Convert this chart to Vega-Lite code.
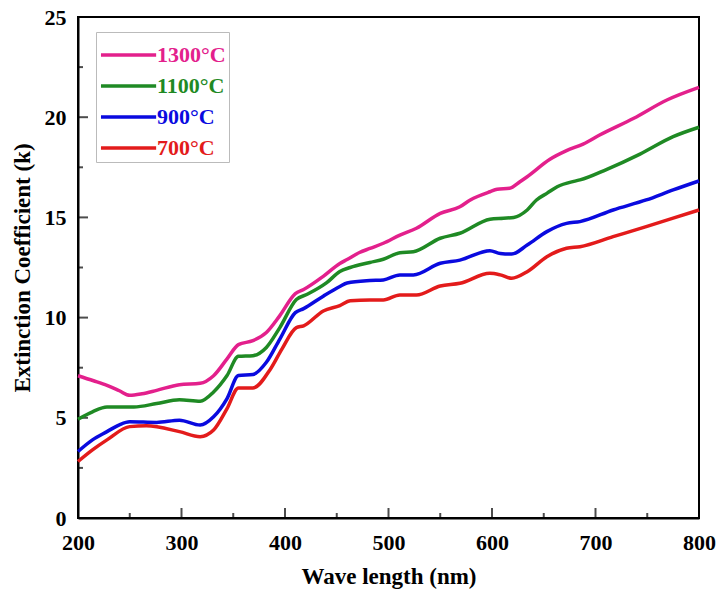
{
  "$schema": "https://vega.github.io/schema/vega-lite/v6.json",
  "width": 621,
  "height": 501,
  "autosize": "none",
  "padding": {"left": 78, "top": 17, "right": 19, "bottom": 78},
  "background": "white",
  "config": {
    "view": {"stroke": "black", "strokeWidth": 2},
    "font": "Liberation Serif"
  },
  "datasets": {
    "c1300": [
      {"w":200,"k":7.1},{"w":215,"k":6.85},{"w":228,"k":6.62},{"w":240,"k":6.35},{"w":250,"k":6.12},{"w":262,"k":6.2},{"w":276,"k":6.37},{"w":298,"k":6.65},{"w":318,"k":6.72},{"w":331,"k":7.1},{"w":344,"k":7.94},{"w":355,"k":8.65},{"w":369,"k":8.85},{"w":382,"k":9.26},{"w":395,"k":10.1},{"w":410,"k":11.2},{"w":418,"k":11.4},{"w":437,"k":12.06},{"w":453,"k":12.7},{"w":460,"k":12.9},{"w":472,"k":13.25},{"w":482,"k":13.45},{"w":495,"k":13.71},{"w":511,"k":14.12},{"w":527,"k":14.46},{"w":550,"k":15.2},{"w":569,"k":15.53},{"w":579,"k":15.87},{"w":598,"k":16.28},{"w":605,"k":16.4},{"w":617,"k":16.45},{"w":627,"k":16.78},{"w":634,"k":17.03},{"w":656,"k":17.9},{"w":672,"k":18.33},{"w":688,"k":18.66},{"w":704,"k":19.11},{"w":737,"k":19.95},{"w":769,"k":20.86},{"w":800,"k":21.49}
    ],
    "c1100": [
      {"w":200,"k":4.93},{"w":214,"k":5.3},{"w":228,"k":5.54},{"w":254,"k":5.54},{"w":276,"k":5.71},{"w":298,"k":5.9},{"w":318,"k":5.83},{"w":331,"k":6.29},{"w":344,"k":7.11},{"w":355,"k":8.07},{"w":369,"k":8.1},{"w":382,"k":8.51},{"w":395,"k":9.5},{"w":411,"k":10.9},{"w":421,"k":11.15},{"w":440,"k":11.73},{"w":453,"k":12.3},{"w":463,"k":12.5},{"w":482,"k":12.75},{"w":495,"k":12.91},{"w":511,"k":13.24},{"w":524,"k":13.29},{"w":550,"k":13.96},{"w":569,"k":14.21},{"w":598,"k":14.91},{"w":611,"k":14.96},{"w":621,"k":15.0},{"w":634,"k":15.37},{"w":643,"k":15.87},{"w":653,"k":16.2},{"w":663,"k":16.53},{"w":679,"k":16.8},{"w":685,"k":16.87},{"w":711,"k":17.4},{"w":743,"k":18.16},{"w":775,"k":19.03},{"w":800,"k":19.5}
    ],
    "c900": [
      {"w":200,"k":3.32},{"w":214,"k":3.9},{"w":228,"k":4.31},{"w":240,"k":4.65},{"w":250,"k":4.8},{"w":276,"k":4.77},{"w":298,"k":4.88},{"w":318,"k":4.64},{"w":331,"k":5.05},{"w":344,"k":5.96},{"w":355,"k":7.11},{"w":369,"k":7.16},{"w":382,"k":7.77},{"w":395,"k":8.93},{"w":410,"k":10.25},{"w":418,"k":10.45},{"w":437,"k":11.07},{"w":453,"k":11.55},{"w":460,"k":11.73},{"w":482,"k":11.85},{"w":495,"k":11.88},{"w":511,"k":12.13},{"w":524,"k":12.13},{"w":550,"k":12.71},{"w":569,"k":12.87},{"w":598,"k":13.34},{"w":608,"k":13.2},{"w":619,"k":13.17},{"w":634,"k":13.62},{"w":653,"k":14.29},{"w":672,"k":14.7},{"w":685,"k":14.79},{"w":717,"k":15.37},{"w":749,"k":15.87},{"w":775,"k":16.37},{"w":800,"k":16.82}
    ],
    "c700": [
      {"w":200,"k":2.82},{"w":214,"k":3.4},{"w":228,"k":3.9},{"w":250,"k":4.56},{"w":266,"k":4.6},{"w":298,"k":4.31},{"w":318,"k":4.06},{"w":331,"k":4.39},{"w":344,"k":5.46},{"w":355,"k":6.49},{"w":369,"k":6.49},{"w":386,"k":7.44},{"w":397,"k":8.43},{"w":411,"k":9.5},{"w":418,"k":9.59},{"w":437,"k":10.33},{"w":453,"k":10.6},{"w":463,"k":10.84},{"w":482,"k":10.88},{"w":495,"k":10.88},{"w":511,"k":11.13},{"w":527,"k":11.13},{"w":550,"k":11.58},{"w":569,"k":11.71},{"w":598,"k":12.21},{"w":608,"k":12.13},{"w":619,"k":11.96},{"w":634,"k":12.29},{"w":653,"k":13.04},{"w":672,"k":13.46},{"w":685,"k":13.54},{"w":717,"k":14.04},{"w":749,"k":14.54},{"w":775,"k":14.96},{"w":800,"k":15.37}
    ],
    "xmajor": [{"w":300,"k":0},{"w":400,"k":0},{"w":500,"k":0},{"w":600,"k":0},{"w":700,"k":0}],
    "xminor": [{"w":250,"k":0},{"w":350,"k":0},{"w":450,"k":0},{"w":550,"k":0},{"w":650,"k":0},{"w":750,"k":0}],
    "ymajor": [{"w":200,"k":5},{"w":200,"k":10},{"w":200,"k":15},{"w":200,"k":20}],
    "yminor": [{"w":200,"k":2.5},{"w":200,"k":7.5},{"w":200,"k":12.5},{"w":200,"k":17.5},{"w":200,"k":22.5}]
  },
  "encoding": {
    "x": {
      "field": "w", "type": "quantitative",
      "scale": {"domain": [200, 800], "nice": false},
      "axis": {
        "title": "Wave length (nm)",
        "values": [200,300,400,500,600,700,800],
        "tickSize": 0,
        "domainColor": "black", "domainWidth": 2,
        "grid": false,
        "labelFont": "Liberation Serif", "labelFontSize": 22, "labelFontWeight": "bold", "labelColor": "black",
        "labelPadding": 14, "labelFlush": false,
        "titleFont": "Liberation Serif", "titleFontSize": 23, "titleFontWeight": "bold", "titleColor": "black",
        "titlePadding": 12
      }
    },
    "y": {
      "field": "k", "type": "quantitative",
      "scale": {"domain": [0, 25], "nice": false},
      "axis": {
        "title": "Extinction Coefficient (k)",
        "values": [0,5,10,15,20,25],
        "tickSize": 0,
        "domainColor": "black", "domainWidth": 2,
        "grid": false,
        "labelFont": "Liberation Serif", "labelFontSize": 22, "labelFontWeight": "bold", "labelColor": "black",
        "labelPadding": 12, "labelFlush": false,
        "titleFont": "Liberation Serif", "titleFontSize": 23, "titleFontWeight": "bold", "titleColor": "black",
        "titlePadding": 10
      }
    }
  },
  "layer": [
    {"data": {"name": "xmajor"}, "mark": {"type": "tick", "orient": "vertical", "size": 20, "thickness": 2, "color": "black", "clip": true}},
    {"data": {"name": "xminor"}, "mark": {"type": "tick", "orient": "vertical", "size": 10, "thickness": 2, "color": "black", "clip": true}},
    {"data": {"name": "ymajor"}, "mark": {"type": "tick", "orient": "horizontal", "size": 20, "thickness": 2, "color": "black", "clip": true}},
    {"data": {"name": "yminor"}, "mark": {"type": "tick", "orient": "horizontal", "size": 10, "thickness": 2, "color": "black", "clip": true}},
    {
      "encoding": {
        "color": {
          "field": "T", "type": "nominal",
          "scale": {
            "domain": ["1300°C", "1100°C", "900°C", "700°C"],
            "range": ["#E3208C", "#1F8A24", "#0A0ADF", "#E31B1B"]
          },
          "legend": {
            "title": null,
            "orient": "none",
            "legendX": 18,
            "legendY": 15,
            "symbolType": "M-1,0H2.06",
            "symbolSize": 1300,
            "symbolStrokeWidth": 3.5,
            "labelFont": "Liberation Serif",
            "labelFontSize": 22,
            "labelFontWeight": "bold",
            "labelOffset": 18,
            "rowPadding": 0,
            "padding": 3,
            "strokeColor": "#bbbbbb",
            "fillColor": "white",
            "encode": {
              "labels": {"update": {"fill": {"scale": "color", "field": "value"}}}
            }
          }
        }
      },
      "layer": [
        {
          "data": {"name": "c1300"},
          "transform": [{"calculate": "'1300°C'", "as": "T"}],
          "mark": {"type": "line", "interpolate": "monotone", "strokeWidth": 3.5}
        },
        {
          "data": {"name": "c1100"},
          "transform": [{"calculate": "'1100°C'", "as": "T"}],
          "mark": {"type": "line", "interpolate": "monotone", "strokeWidth": 3.5}
        },
        {
          "data": {"name": "c900"},
          "transform": [{"calculate": "'900°C'", "as": "T"}],
          "mark": {"type": "line", "interpolate": "monotone", "strokeWidth": 3.5}
        },
        {
          "data": {"name": "c700"},
          "transform": [{"calculate": "'700°C'", "as": "T"}],
          "mark": {"type": "line", "interpolate": "monotone", "strokeWidth": 3.5}
        }
      ]
    }
  ]
}
